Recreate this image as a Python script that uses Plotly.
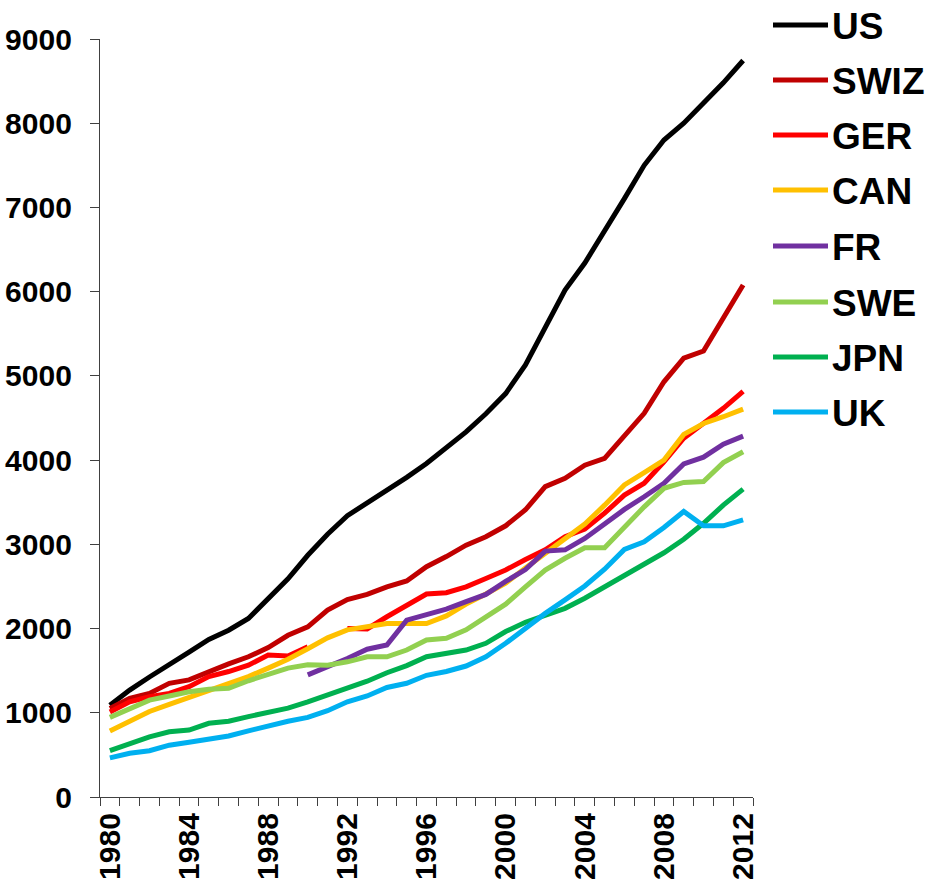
import plotly.graph_objects as go

years = list(range(1980, 2013))

US = [1090, 1270, 1425, 1565, 1720, 1870, 1980, 2120, 2355, 2590, 2870, 3120, 3340, 3490, 3645, 3795, 3960,
      4140, 4335, 4550, 4790, 5130, 5570, 6020, 6340, 6710, 7105, 7500, 7800, 8000, 8230, 8480, 8745]
SWIZ = [1050, 1170, 1230, 1350, 1390, 1490, 1580, 1665, 1775, 1920, 2020, 2220, 2345, 2405, 2495, 2565, 2735,
        2855, 2990, 3090, 3220, 3410, 3685, 3785, 3940, 4020, 4280, 4555, 4930, 5210, 5295, 5685, 6080]
GER = [1010, 1130, 1190, 1230, 1310, 1430, 1490, 1565, 1685, 1675, 1785, None, 2000, 1995, 2140, 2280, 2410,
       2425, 2495, 2595, 2695, 2820, 2935, 3090, 3180, 3370, 3585, 3725, 3980, 4260, 4435, 4615, 4815]
CAN = [785, 900, 1015, 1100, 1180, 1260, 1340, 1430, 1530, 1635, 1760, 1890, 1985, 2020, 2060, 2060, 2060,
       2150, 2290, 2410, 2540, 2720, 2895, 3080, 3240, 3465, 3705, 3850, 4000, 4305, 4435, 4515, 4605]
FR = [None, None, None, None, None, None, None, None, None, None, 1450, 1545, 1645, 1755, 1805, 2100, 2160,
      2230, 2320, 2405, 2560, 2700, 2920, 2935, 3070, 3250, 3415, 3565, 3725, 3955, 4035, 4190, 4285]
SWE = [945, 1055, 1150, 1200, 1250, 1280, 1290, 1380, 1450, 1530, 1570, 1565, 1605, 1665, 1665, 1745, 1865,
       1885, 1985, 2140, 2290, 2495, 2695, 2835, 2960, 2960, 3210, 3445, 3665, 3735, 3745, 3970, 4100]
JPN = [550, 640, 715, 775, 795, 875, 900, 955, 1005, 1055, 1130, 1210, 1290, 1375, 1475, 1560, 1665,
       1700, 1745, 1825, 1965, 2075, 2160, 2240, 2360, 2495, 2615, 2755, 2900, 3060, 3250, 3465, 3655]
UK = [465, 520, 550, 615, 650, 685, 725, 785, 845, 900, 945, 1025, 1130, 1200, 1300, 1350, 1445,
      1490, 1555, 1665, 1825, 2010, 2180, 2340, 2505, 2705, 2940, 3030, 3200, 3390, 3220, 3220, 3290]

series_names = ["US", "SWIZ", "GER", "CAN", "FR", "SWE", "JPN", "UK"]
series_values = [US, SWIZ, GER, CAN, FR, SWE, JPN, UK]
series_colors = ["#000000", "#C00000", "#FF0000", "#FFC000", "#7030A0", "#92D050", "#00B050", "#00B0F0"]

x_tick_years = list(range(1980, 2013, 4))
x_tick_labels = [str(y) for y in x_tick_years]
y_tick_values = list(range(0, 9001, 1000))
y_tick_labels = [str(v) for v in y_tick_values]

W, H = 932, 886
ML, MT = 100, 39
PW, PH = 653, 758
MR, MB = W - ML - PW, H - MT - PH

FONT = "Liberation Sans, Arial, sans-serif"

fig = go.Figure()
for name, vals, col in zip(series_names, series_values, series_colors):
    fig.add_trace(go.Scatter(x=years, y=vals, mode="lines", name=name,
                             line=dict(color=col, width=5), connectgaps=False,
                             showlegend=False))

# custom legend (line sample + label); positions given in pixels
leg_y_px = [25, 80, 135, 190, 246, 302, 357, 412]
def px_x(p):
    return (p - ML) / PW
def px_y(p):
    return (MT + PH - p) / PH

for name, col, yp in zip(series_names, series_colors, leg_y_px):
    fig.add_shape(type="line", xref="paper", yref="paper",
                  x0=px_x(773), x1=px_x(828), y0=px_y(yp), y1=px_y(yp),
                  line=dict(color=col, width=5))
    fig.add_annotation(xref="paper", yref="paper", x=px_x(830), y=px_y(yp + 1),
                       text=f"<b>{name}</b>", showarrow=False, xanchor="left", yanchor="middle",
                       font=dict(family=FONT, size=37, color="#000000"))

fig.update_layout(
    width=W, height=H,
    margin=dict(l=ML, r=MR, t=MT, b=MB, pad=0, autoexpand=False),
    paper_bgcolor="white", plot_bgcolor="white",
    font=dict(family=FONT, color="#000000"),
    showlegend=False,
)

fig.update_xaxes(
    automargin=False,
    range=[1979.5, 2012.5], showgrid=False, zeroline=False,
    showline=True, linecolor="#404040", linewidth=1.3,
    tickmode="array", tickvals=x_tick_years, ticktext=[f"<b>{t}</b>" for t in x_tick_labels],
    ticks="", tickangle=-90, ticklabelstandoff=3,
    tickfont=dict(family=FONT, size=30, color="#000000"),
    minor=dict(ticks="outside", ticklen=8, tickwidth=1.3, tickcolor="#404040",
               tickmode="linear", tick0=1979.5, dtick=1, showgrid=False),
)
fig.update_yaxes(
    automargin=False,
    range=[0, 9000], showgrid=False, zeroline=False,
    showline=True, linecolor="#404040", linewidth=1.3,
    tickmode="array", tickvals=y_tick_values, ticktext=[f"<b>{t}</b>" for t in y_tick_labels],
    ticks="outside", ticklen=9, tickwidth=1.3, tickcolor="#404040", ticklabelstandoff=12,
    tickfont=dict(family=FONT, size=30, color="#000000"),
)

fig.write_html("out.html", config={"displayModeBar": False},
               post_script="document.body.style.margin='0px';")
